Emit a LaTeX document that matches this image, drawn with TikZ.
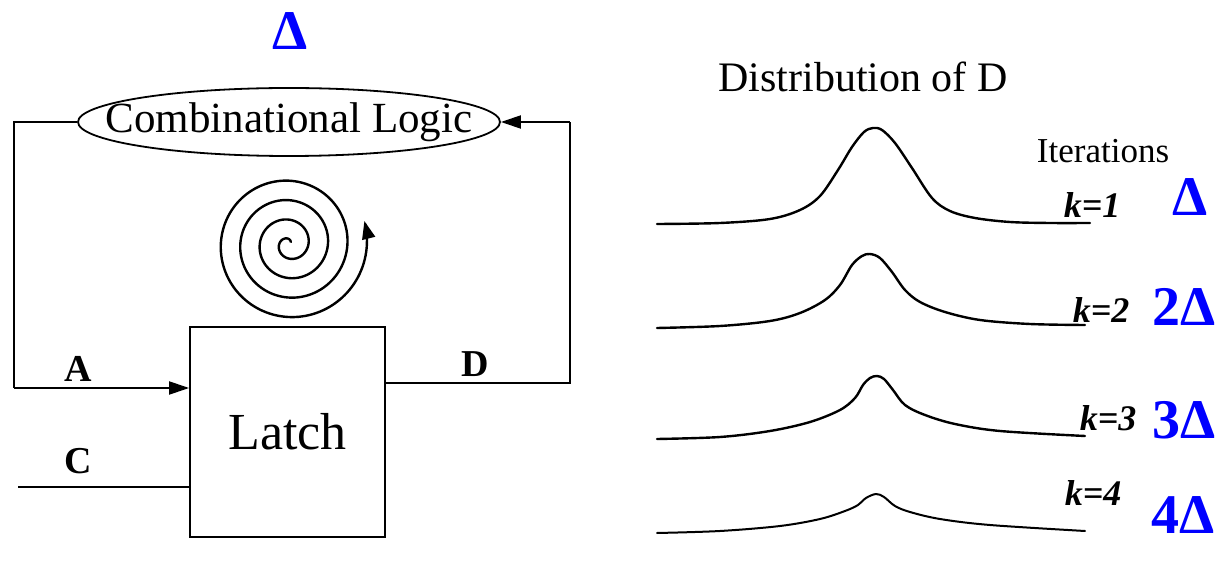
\documentclass[tikz,border=0pt]{standalone}
\usepackage{fontspec}
\setmainfont{Liberation Serif}
\newfontfamily\deltafont{Liberation Serif Bold}
\usetikzlibrary{shapes.geometric,arrows.meta}
\definecolor{dblue}{RGB}{0,0,255}
\tikzset{
  wire/.style={line width=2pt},
  tipA/.style={-{Triangle[length=20pt,width=13pt]}},
  curve/.style={line width=2.4pt, smooth, tension=0.55, line join=round, line cap=round},
  bluelab/.style={text=dblue, font=\deltafont\fontsize{56}{60}\selectfont, inner sep=0pt},
  klab/.style={font=\bfseries\itshape\fontsize{36}{42}\selectfont, inner sep=0pt},
  sig/.style={font=\bfseries\fontsize{38}{44}\selectfont, inner sep=0pt}
}
\begin{document}
\begin{tikzpicture}[x=1pt,y=-1pt]
\useasboundingbox (0,0) rectangle (1219,561);
% top delta
\node[bluelab] (dtop) at (290,31) {Δ};
% combinational logic
\node[ellipse, draw, line width=1.8pt, minimum width=422pt, minimum height=68pt, inner sep=0pt] (cl) at (289,122) {};
\node[font=\fontsize{43}{50}\selectfont, inner sep=0pt] (cltext) at (cl.center) {Combinational Logic};
% latch
\node[rectangle, draw, line width=1.8pt, minimum width=195pt, minimum height=210pt, inner sep=0pt,
      font=\fontsize{52}{60}\selectfont] (latch) at (287.5,432) {Latch};
% coordinates
\coordinate (tl) at (14,122);
\coordinate (bl) at (14,388);
\coordinate (cin) at (18,487);
\coordinate (dr) at (570,383);
\coordinate (tr) at (570,122);
% wires
\draw[wire] (cl.west) -- (tl) -- (bl);
\draw[wire,tipA] (bl) -- (bl -| latch.west);
\draw[wire] (cin) -- (cin -| latch.west);
\draw[wire] (latch.east |- dr) -- (dr) -- (tr);
\draw[wire,tipA] (tr) -- (cl.east);
% labels
\node[sig] (la) at (78,369) {A};
\node[sig] (lc) at (78,461) {C};
\node[sig] (ld) at (475,364) {D};
% spiral
\draw[line width=2.4pt, -{Triangle[length=18pt,width=13pt]}]
  plot[domain=40:1457, samples=500, smooth]
  ({289 + 3.1*rad(\x)*cos(\x)}, {244 - 3.1*rad(\x)*sin(\x)});
% right part
\node[font=\fontsize{42}{48}\selectfont, inner sep=0pt] (title) at (863,77) {Distribution of D};
\node[font=\fontsize{35}{40}\selectfont, inner sep=0pt] (iter) at (1103,151) {Iterations};
% curves
\draw[curve] plot coordinates {(657,224) (720,223) (770,219) (800,210) (820,196) (838,170) (852,147) (864,132) (873,128) (882,130) (895,143) (912,168) (932,198) (950,211) (975,218) (1010,222) (1050,223) (1090,223)};
\draw[curve] plot coordinates {(657,328) (720,326) (770,321) (800,313) (825,300) (840,285) (852,265) (862,256) (870,254) (880,258) (892,272) (905,290) (920,302) (945,312) (980,320) (1030,324) (1085,325)};
\draw[curve] plot coordinates {(657,439) (720,437) (770,431) (810,422) (840,410) (855,398) (863,385) (870,378) (877,376) (884,379) (893,390) (905,405) (925,415) (955,424) (1000,431) (1085,436)};
\draw[curve, line width=2pt] plot coordinates {(657,533) (720,531) (780,526) (820,519) (845,511) (858,505) (866,498) (876,494) (884,497) (895,506) (910,512) (940,519) (990,525) (1085,531)};
% k labels
\node[klab] (k1) at (1092,205) {k=1};
\node[klab] (k2) at (1101,310) {k=2};
\node[klab] (k3) at (1108,418) {k=3};
\node[klab] (k4) at (1093,493) {k=4};
% blue deltas
\node[bluelab] (d1) at (1190,197) {Δ};
\node[bluelab] (d2) at (1184,307) {2Δ};
\node[bluelab] (d3) at (1184,420) {3Δ};
\node[bluelab] (d4) at (1183,515) {4Δ};
\end{tikzpicture}
\end{document}
